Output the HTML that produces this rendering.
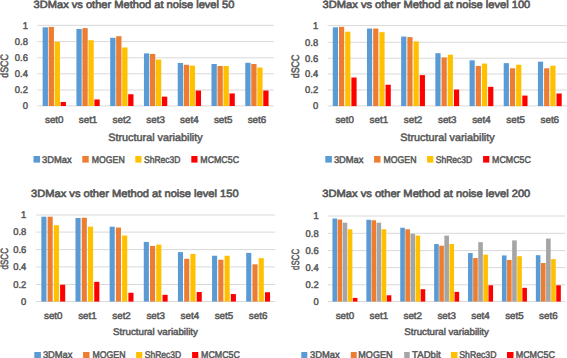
<!DOCTYPE html>
<html><head><meta charset="utf-8"><title>3DMax vs other Method</title>
<style>
html,body{margin:0;padding:0;background:#fff;overflow:hidden;}
svg{display:block;font-family:"Liberation Sans",sans-serif;}
text{stroke:#595959;stroke-width:0.5px;paint-order:stroke;text-rendering:geometricPrecision;}
</style></head><body>
<svg width="567" height="358" viewBox="0 0 567 358">
<rect x="0" y="0" width="567" height="358" fill="#fff"/>
<text x="33.60" y="7.80" font-size="10.5" textLength="200.80" lengthAdjust="spacingAndGlyphs" fill="#595959" style="stroke-width:0.65px">3DMax vs other Method at noise level 50</text>
<rect x="37.40" y="105.40" width="236.40" height="1" fill="#D9D9D9"/>
<text x="22.67" y="109.20" font-size="9.8" textLength="5.23" lengthAdjust="spacingAndGlyphs" fill="#595959">0</text>
<rect x="37.40" y="89.50" width="236.40" height="1" fill="#D9D9D9"/>
<text x="14.82" y="93.30" font-size="9.8" textLength="13.08" lengthAdjust="spacingAndGlyphs" fill="#595959">0.2</text>
<rect x="37.40" y="73.30" width="236.40" height="1" fill="#D9D9D9"/>
<text x="14.82" y="77.10" font-size="9.8" textLength="13.08" lengthAdjust="spacingAndGlyphs" fill="#595959">0.4</text>
<rect x="37.40" y="57.30" width="236.40" height="1" fill="#D9D9D9"/>
<text x="14.82" y="61.10" font-size="9.8" textLength="13.08" lengthAdjust="spacingAndGlyphs" fill="#595959">0.6</text>
<rect x="37.40" y="41.10" width="236.40" height="1" fill="#D9D9D9"/>
<text x="14.82" y="44.90" font-size="9.8" textLength="13.08" lengthAdjust="spacingAndGlyphs" fill="#595959">0.8</text>
<rect x="37.40" y="24.80" width="236.40" height="1" fill="#D9D9D9"/>
<text x="22.67" y="28.60" font-size="9.8" textLength="5.23" lengthAdjust="spacingAndGlyphs" fill="#595959">1</text>
<rect x="42.64" y="27.33" width="5.30" height="78.67" fill="#5B9BD5"/>
<rect x="48.64" y="26.93" width="5.30" height="79.07" fill="#ED7D31"/>
<rect x="54.64" y="41.84" width="5.30" height="64.16" fill="#FFC000"/>
<rect x="60.64" y="101.97" width="5.30" height="4.03" fill="#FF0000"/>
<rect x="76.41" y="28.95" width="5.30" height="77.05" fill="#5B9BD5"/>
<rect x="82.41" y="28.14" width="5.30" height="77.86" fill="#ED7D31"/>
<rect x="88.41" y="40.23" width="5.30" height="65.77" fill="#FFC000"/>
<rect x="94.41" y="99.47" width="5.30" height="6.53" fill="#FF0000"/>
<rect x="110.18" y="37.81" width="5.30" height="68.19" fill="#5B9BD5"/>
<rect x="116.18" y="36.20" width="5.30" height="69.80" fill="#ED7D31"/>
<rect x="122.18" y="47.48" width="5.30" height="58.52" fill="#FFC000"/>
<rect x="128.18" y="94.23" width="5.30" height="11.77" fill="#FF0000"/>
<rect x="143.95" y="53.37" width="5.30" height="52.63" fill="#5B9BD5"/>
<rect x="149.95" y="53.93" width="5.30" height="52.07" fill="#ED7D31"/>
<rect x="155.95" y="59.57" width="5.30" height="46.43" fill="#FFC000"/>
<rect x="161.95" y="96.65" width="5.30" height="9.35" fill="#FF0000"/>
<rect x="177.72" y="62.96" width="5.30" height="43.04" fill="#5B9BD5"/>
<rect x="183.72" y="64.81" width="5.30" height="41.19" fill="#ED7D31"/>
<rect x="189.72" y="65.62" width="5.30" height="40.38" fill="#FFC000"/>
<rect x="195.72" y="90.52" width="5.30" height="15.48" fill="#FF0000"/>
<rect x="211.49" y="64.01" width="5.30" height="41.99" fill="#5B9BD5"/>
<rect x="217.49" y="66.02" width="5.30" height="39.98" fill="#ED7D31"/>
<rect x="223.49" y="66.02" width="5.30" height="39.98" fill="#FFC000"/>
<rect x="229.49" y="93.43" width="5.30" height="12.57" fill="#FF0000"/>
<rect x="245.26" y="62.80" width="5.30" height="43.20" fill="#5B9BD5"/>
<rect x="251.26" y="64.01" width="5.30" height="41.99" fill="#ED7D31"/>
<rect x="257.26" y="67.55" width="5.30" height="38.45" fill="#FFC000"/>
<rect x="263.26" y="90.52" width="5.30" height="15.48" fill="#FF0000"/>
<text x="45.02" y="123.10" font-size="9.8" textLength="18.52" lengthAdjust="spacingAndGlyphs" fill="#595959">set0</text>
<text x="78.80" y="123.10" font-size="9.8" textLength="18.52" lengthAdjust="spacingAndGlyphs" fill="#595959">set1</text>
<text x="112.57" y="123.10" font-size="9.8" textLength="18.52" lengthAdjust="spacingAndGlyphs" fill="#595959">set2</text>
<text x="146.34" y="123.10" font-size="9.8" textLength="18.52" lengthAdjust="spacingAndGlyphs" fill="#595959">set3</text>
<text x="180.11" y="123.10" font-size="9.8" textLength="18.52" lengthAdjust="spacingAndGlyphs" fill="#595959">set4</text>
<text x="213.88" y="123.10" font-size="9.8" textLength="18.52" lengthAdjust="spacingAndGlyphs" fill="#595959">set5</text>
<text x="247.65" y="123.10" font-size="9.8" textLength="18.52" lengthAdjust="spacingAndGlyphs" fill="#595959">set6</text>
<text x="108.30" y="140.60" font-size="10.8" textLength="94.30" lengthAdjust="spacingAndGlyphs" fill="#595959">Structural variability</text>
<text transform="translate(7.90,77.80) rotate(-90)" x="0" y="0" font-size="10.8" textLength="23.80" lengthAdjust="spacingAndGlyphs" fill="#595959">dSCC</text>
<rect x="33.50" y="156.00" width="6.60" height="6.60" fill="#5B9BD5"/>
<text x="42.10" y="162.60" font-size="9.8" textLength="29.60" lengthAdjust="spacingAndGlyphs" fill="#595959">3DMax</text>
<rect x="82.30" y="156.00" width="6.40" height="6.60" fill="#ED7D31"/>
<text x="91.70" y="162.60" font-size="9.8" textLength="33.00" lengthAdjust="spacingAndGlyphs" fill="#595959">MOGEN</text>
<rect x="135.30" y="156.00" width="6.20" height="6.60" fill="#FFC000"/>
<text x="144.00" y="162.60" font-size="9.8" textLength="36.40" lengthAdjust="spacingAndGlyphs" fill="#595959">ShRec3D</text>
<rect x="191.30" y="156.00" width="6.20" height="6.60" fill="#FF0000"/>
<text x="200.30" y="162.60" font-size="9.8" textLength="38.70" lengthAdjust="spacingAndGlyphs" fill="#595959">MCMC5C</text>
<text x="322.60" y="7.90" font-size="10.5" textLength="207.70" lengthAdjust="spacingAndGlyphs" fill="#595959" style="stroke-width:0.65px">3DMax vs other Method at noise level 100</text>
<rect x="327.60" y="105.40" width="239.30" height="1" fill="#D9D9D9"/>
<text x="312.97" y="109.20" font-size="9.8" textLength="5.23" lengthAdjust="spacingAndGlyphs" fill="#595959">0</text>
<rect x="327.60" y="89.50" width="239.30" height="1" fill="#D9D9D9"/>
<text x="305.12" y="93.30" font-size="9.8" textLength="13.08" lengthAdjust="spacingAndGlyphs" fill="#595959">0.2</text>
<rect x="327.60" y="73.50" width="239.30" height="1" fill="#D9D9D9"/>
<text x="305.12" y="77.30" font-size="9.8" textLength="13.08" lengthAdjust="spacingAndGlyphs" fill="#595959">0.4</text>
<rect x="327.60" y="57.70" width="239.30" height="1" fill="#D9D9D9"/>
<text x="305.12" y="61.50" font-size="9.8" textLength="13.08" lengthAdjust="spacingAndGlyphs" fill="#595959">0.6</text>
<rect x="327.60" y="41.80" width="239.30" height="1" fill="#D9D9D9"/>
<text x="305.12" y="45.60" font-size="9.8" textLength="13.08" lengthAdjust="spacingAndGlyphs" fill="#595959">0.8</text>
<rect x="327.60" y="25.10" width="239.30" height="1" fill="#D9D9D9"/>
<text x="312.97" y="28.90" font-size="9.8" textLength="5.23" lengthAdjust="spacingAndGlyphs" fill="#595959">1</text>
<rect x="332.79" y="27.33" width="5.20" height="78.77" fill="#5B9BD5"/>
<rect x="338.99" y="26.92" width="5.20" height="79.18" fill="#ED7D31"/>
<rect x="345.19" y="31.74" width="5.20" height="74.36" fill="#FFC000"/>
<rect x="351.39" y="77.51" width="5.20" height="28.59" fill="#FF0000"/>
<rect x="366.98" y="28.53" width="5.20" height="77.57" fill="#5B9BD5"/>
<rect x="373.18" y="28.53" width="5.20" height="77.57" fill="#ED7D31"/>
<rect x="379.38" y="32.14" width="5.20" height="73.96" fill="#FFC000"/>
<rect x="385.58" y="84.74" width="5.20" height="21.36" fill="#FF0000"/>
<rect x="401.16" y="36.56" width="5.20" height="69.54" fill="#5B9BD5"/>
<rect x="407.36" y="37.12" width="5.20" height="68.98" fill="#ED7D31"/>
<rect x="413.56" y="41.38" width="5.20" height="64.72" fill="#FFC000"/>
<rect x="419.76" y="75.10" width="5.20" height="31.00" fill="#FF0000"/>
<rect x="435.35" y="53.18" width="5.20" height="52.92" fill="#5B9BD5"/>
<rect x="441.55" y="57.44" width="5.20" height="48.66" fill="#ED7D31"/>
<rect x="447.75" y="54.71" width="5.20" height="51.39" fill="#FFC000"/>
<rect x="453.95" y="89.56" width="5.20" height="16.54" fill="#FF0000"/>
<rect x="469.54" y="60.33" width="5.20" height="45.77" fill="#5B9BD5"/>
<rect x="475.74" y="65.95" width="5.20" height="40.15" fill="#ED7D31"/>
<rect x="481.94" y="63.54" width="5.20" height="42.56" fill="#FFC000"/>
<rect x="488.14" y="86.83" width="5.20" height="19.27" fill="#FF0000"/>
<rect x="503.72" y="63.14" width="5.20" height="42.96" fill="#5B9BD5"/>
<rect x="509.92" y="68.28" width="5.20" height="37.82" fill="#ED7D31"/>
<rect x="516.12" y="64.75" width="5.20" height="41.35" fill="#FFC000"/>
<rect x="522.32" y="95.58" width="5.20" height="10.52" fill="#FF0000"/>
<rect x="537.91" y="61.69" width="5.20" height="44.41" fill="#5B9BD5"/>
<rect x="544.11" y="68.28" width="5.20" height="37.82" fill="#ED7D31"/>
<rect x="550.31" y="65.71" width="5.20" height="40.39" fill="#FFC000"/>
<rect x="556.51" y="93.49" width="5.20" height="12.61" fill="#FF0000"/>
<text x="335.43" y="123.10" font-size="9.8" textLength="18.52" lengthAdjust="spacingAndGlyphs" fill="#595959">set0</text>
<text x="369.62" y="123.10" font-size="9.8" textLength="18.52" lengthAdjust="spacingAndGlyphs" fill="#595959">set1</text>
<text x="403.80" y="123.10" font-size="9.8" textLength="18.52" lengthAdjust="spacingAndGlyphs" fill="#595959">set2</text>
<text x="437.99" y="123.10" font-size="9.8" textLength="18.52" lengthAdjust="spacingAndGlyphs" fill="#595959">set3</text>
<text x="472.17" y="123.10" font-size="9.8" textLength="18.52" lengthAdjust="spacingAndGlyphs" fill="#595959">set4</text>
<text x="506.36" y="123.10" font-size="9.8" textLength="18.52" lengthAdjust="spacingAndGlyphs" fill="#595959">set5</text>
<text x="540.55" y="123.10" font-size="9.8" textLength="18.52" lengthAdjust="spacingAndGlyphs" fill="#595959">set6</text>
<text x="400.30" y="140.60" font-size="10.8" textLength="94.30" lengthAdjust="spacingAndGlyphs" fill="#595959">Structural variability</text>
<text transform="translate(298.90,78.30) rotate(-90)" x="0" y="0" font-size="10.8" textLength="23.80" lengthAdjust="spacingAndGlyphs" fill="#595959">dSCC</text>
<rect x="325.30" y="156.00" width="6.60" height="6.60" fill="#5B9BD5"/>
<text x="333.90" y="162.60" font-size="9.8" textLength="29.60" lengthAdjust="spacingAndGlyphs" fill="#595959">3DMax</text>
<rect x="374.10" y="156.00" width="6.40" height="6.60" fill="#ED7D31"/>
<text x="383.50" y="162.60" font-size="9.8" textLength="33.00" lengthAdjust="spacingAndGlyphs" fill="#595959">MOGEN</text>
<rect x="427.10" y="156.00" width="6.20" height="6.60" fill="#FFC000"/>
<text x="435.80" y="162.60" font-size="9.8" textLength="36.40" lengthAdjust="spacingAndGlyphs" fill="#595959">ShRec3D</text>
<rect x="483.10" y="156.00" width="6.20" height="6.60" fill="#FF0000"/>
<text x="492.10" y="162.60" font-size="9.8" textLength="38.70" lengthAdjust="spacingAndGlyphs" fill="#595959">MCMC5C</text>
<text x="31.10" y="196.60" font-size="10.5" textLength="207.50" lengthAdjust="spacingAndGlyphs" fill="#595959" style="stroke-width:0.65px">3DMax vs other Method at noise level 150</text>
<rect x="36.20" y="301.00" width="239.00" height="1" fill="#D9D9D9"/>
<text x="21.07" y="304.80" font-size="9.8" textLength="5.23" lengthAdjust="spacingAndGlyphs" fill="#595959">0</text>
<rect x="36.20" y="284.00" width="239.00" height="1" fill="#D9D9D9"/>
<text x="13.22" y="287.80" font-size="9.8" textLength="13.08" lengthAdjust="spacingAndGlyphs" fill="#595959">0.2</text>
<rect x="36.20" y="266.40" width="239.00" height="1" fill="#D9D9D9"/>
<text x="13.22" y="270.20" font-size="9.8" textLength="13.08" lengthAdjust="spacingAndGlyphs" fill="#595959">0.4</text>
<rect x="36.20" y="249.10" width="239.00" height="1" fill="#D9D9D9"/>
<text x="13.22" y="252.90" font-size="9.8" textLength="13.08" lengthAdjust="spacingAndGlyphs" fill="#595959">0.6</text>
<rect x="36.20" y="231.60" width="239.00" height="1" fill="#D9D9D9"/>
<text x="13.22" y="235.40" font-size="9.8" textLength="13.08" lengthAdjust="spacingAndGlyphs" fill="#595959">0.8</text>
<rect x="36.20" y="214.50" width="239.00" height="1" fill="#D9D9D9"/>
<text x="21.07" y="218.30" font-size="9.8" textLength="5.23" lengthAdjust="spacingAndGlyphs" fill="#595959">1</text>
<rect x="41.35" y="216.72" width="5.10" height="84.88" fill="#5B9BD5"/>
<rect x="47.60" y="216.72" width="5.10" height="84.88" fill="#ED7D31"/>
<rect x="53.85" y="225.22" width="5.10" height="76.38" fill="#FFC000"/>
<rect x="60.10" y="284.78" width="5.10" height="16.82" fill="#FF0000"/>
<rect x="75.49" y="218.02" width="5.10" height="83.58" fill="#5B9BD5"/>
<rect x="81.74" y="217.76" width="5.10" height="83.84" fill="#ED7D31"/>
<rect x="87.99" y="226.69" width="5.10" height="74.91" fill="#FFC000"/>
<rect x="94.24" y="281.83" width="5.10" height="19.77" fill="#FF0000"/>
<rect x="109.63" y="226.69" width="5.10" height="74.91" fill="#5B9BD5"/>
<rect x="115.88" y="227.56" width="5.10" height="74.04" fill="#ED7D31"/>
<rect x="122.13" y="235.53" width="5.10" height="66.07" fill="#FFC000"/>
<rect x="128.38" y="292.76" width="5.10" height="8.84" fill="#FF0000"/>
<rect x="143.78" y="241.95" width="5.10" height="59.65" fill="#5B9BD5"/>
<rect x="150.03" y="245.94" width="5.10" height="55.66" fill="#ED7D31"/>
<rect x="156.28" y="244.64" width="5.10" height="56.96" fill="#FFC000"/>
<rect x="162.53" y="294.84" width="5.10" height="6.76" fill="#FF0000"/>
<rect x="177.92" y="252.09" width="5.10" height="49.51" fill="#5B9BD5"/>
<rect x="184.17" y="258.77" width="5.10" height="42.83" fill="#ED7D31"/>
<rect x="190.42" y="253.92" width="5.10" height="47.69" fill="#FFC000"/>
<rect x="196.67" y="291.98" width="5.10" height="9.62" fill="#FF0000"/>
<rect x="212.06" y="255.74" width="5.10" height="45.86" fill="#5B9BD5"/>
<rect x="218.31" y="259.72" width="5.10" height="41.88" fill="#ED7D31"/>
<rect x="224.56" y="255.74" width="5.10" height="45.86" fill="#FFC000"/>
<rect x="230.81" y="294.06" width="5.10" height="7.54" fill="#FF0000"/>
<rect x="246.20" y="252.87" width="5.10" height="48.73" fill="#5B9BD5"/>
<rect x="252.45" y="264.32" width="5.10" height="37.28" fill="#ED7D31"/>
<rect x="258.70" y="258.16" width="5.10" height="43.44" fill="#FFC000"/>
<rect x="264.95" y="292.24" width="5.10" height="9.36" fill="#FF0000"/>
<text x="44.01" y="318.60" font-size="9.8" textLength="18.52" lengthAdjust="spacingAndGlyphs" fill="#595959">set0</text>
<text x="78.15" y="318.60" font-size="9.8" textLength="18.52" lengthAdjust="spacingAndGlyphs" fill="#595959">set1</text>
<text x="112.30" y="318.60" font-size="9.8" textLength="18.52" lengthAdjust="spacingAndGlyphs" fill="#595959">set2</text>
<text x="146.44" y="318.60" font-size="9.8" textLength="18.52" lengthAdjust="spacingAndGlyphs" fill="#595959">set3</text>
<text x="180.58" y="318.60" font-size="9.8" textLength="18.52" lengthAdjust="spacingAndGlyphs" fill="#595959">set4</text>
<text x="214.72" y="318.60" font-size="9.8" textLength="18.52" lengthAdjust="spacingAndGlyphs" fill="#595959">set5</text>
<text x="248.87" y="318.60" font-size="9.8" textLength="18.52" lengthAdjust="spacingAndGlyphs" fill="#595959">set6</text>
<text x="113.10" y="335.10" font-size="9.7" textLength="84.80" lengthAdjust="spacingAndGlyphs" fill="#595959">Structural variability</text>
<text transform="translate(7.70,269.40) rotate(-90)" x="0" y="0" font-size="10.6" textLength="21.30" lengthAdjust="spacingAndGlyphs" fill="#595959">dSCC</text>
<rect x="34.30" y="352.00" width="6.60" height="6.60" fill="#5B9BD5"/>
<text x="42.90" y="357.90" font-size="9.8" textLength="29.60" lengthAdjust="spacingAndGlyphs" fill="#595959">3DMax</text>
<rect x="83.10" y="352.00" width="6.40" height="6.60" fill="#ED7D31"/>
<text x="92.50" y="357.90" font-size="9.8" textLength="33.00" lengthAdjust="spacingAndGlyphs" fill="#595959">MOGEN</text>
<rect x="136.10" y="352.00" width="6.20" height="6.60" fill="#FFC000"/>
<text x="144.80" y="357.90" font-size="9.8" textLength="36.40" lengthAdjust="spacingAndGlyphs" fill="#595959">ShRec3D</text>
<rect x="192.10" y="352.00" width="6.20" height="6.60" fill="#FF0000"/>
<text x="201.10" y="357.90" font-size="9.8" textLength="38.70" lengthAdjust="spacingAndGlyphs" fill="#595959">MCMC5C</text>
<text x="322.30" y="196.50" font-size="10.5" textLength="208.00" lengthAdjust="spacingAndGlyphs" fill="#595959" style="stroke-width:0.65px">3DMax vs other Method at noise level 200</text>
<rect x="328.00" y="301.00" width="237.30" height="1" fill="#D9D9D9"/>
<text x="313.47" y="304.80" font-size="9.8" textLength="5.23" lengthAdjust="spacingAndGlyphs" fill="#595959">0</text>
<rect x="328.00" y="284.30" width="237.30" height="1" fill="#D9D9D9"/>
<text x="305.62" y="288.10" font-size="9.8" textLength="13.08" lengthAdjust="spacingAndGlyphs" fill="#595959">0.2</text>
<rect x="328.00" y="267.10" width="237.30" height="1" fill="#D9D9D9"/>
<text x="305.62" y="270.90" font-size="9.8" textLength="13.08" lengthAdjust="spacingAndGlyphs" fill="#595959">0.4</text>
<rect x="328.00" y="250.10" width="237.30" height="1" fill="#D9D9D9"/>
<text x="305.62" y="253.90" font-size="9.8" textLength="13.08" lengthAdjust="spacingAndGlyphs" fill="#595959">0.6</text>
<rect x="328.00" y="232.80" width="237.30" height="1" fill="#D9D9D9"/>
<text x="305.62" y="236.60" font-size="9.8" textLength="13.08" lengthAdjust="spacingAndGlyphs" fill="#595959">0.8</text>
<rect x="328.00" y="215.50" width="237.30" height="1" fill="#D9D9D9"/>
<text x="313.47" y="219.30" font-size="9.8" textLength="5.23" lengthAdjust="spacingAndGlyphs" fill="#595959">1</text>
<rect x="332.45" y="218.49" width="4.60" height="83.11" fill="#5B9BD5"/>
<rect x="337.55" y="219.52" width="4.60" height="82.08" fill="#ED7D31"/>
<rect x="342.65" y="222.68" width="4.60" height="78.92" fill="#A5A5A5"/>
<rect x="347.75" y="229.27" width="4.60" height="72.33" fill="#FFC000"/>
<rect x="352.85" y="297.92" width="4.60" height="3.68" fill="#FF0000"/>
<rect x="366.35" y="219.78" width="4.60" height="81.82" fill="#5B9BD5"/>
<rect x="371.45" y="220.29" width="4.60" height="81.31" fill="#ED7D31"/>
<rect x="376.55" y="222.68" width="4.60" height="78.92" fill="#A5A5A5"/>
<rect x="381.65" y="229.27" width="4.60" height="72.33" fill="#FFC000"/>
<rect x="386.75" y="295.27" width="4.60" height="6.33" fill="#FF0000"/>
<rect x="400.25" y="227.73" width="4.60" height="73.87" fill="#5B9BD5"/>
<rect x="405.35" y="229.27" width="4.60" height="72.33" fill="#ED7D31"/>
<rect x="410.45" y="233.80" width="4.60" height="67.80" fill="#A5A5A5"/>
<rect x="415.55" y="235.59" width="4.60" height="66.01" fill="#FFC000"/>
<rect x="420.65" y="289.20" width="4.60" height="12.40" fill="#FF0000"/>
<rect x="434.15" y="244.06" width="4.60" height="57.54" fill="#5B9BD5"/>
<rect x="439.25" y="245.68" width="4.60" height="55.92" fill="#ED7D31"/>
<rect x="444.35" y="235.59" width="4.60" height="66.01" fill="#A5A5A5"/>
<rect x="449.45" y="244.06" width="4.60" height="57.54" fill="#FFC000"/>
<rect x="454.55" y="291.85" width="4.60" height="9.75" fill="#FF0000"/>
<rect x="468.05" y="253.04" width="4.60" height="48.56" fill="#5B9BD5"/>
<rect x="473.15" y="258.08" width="4.60" height="43.52" fill="#ED7D31"/>
<rect x="478.25" y="242.18" width="4.60" height="59.42" fill="#A5A5A5"/>
<rect x="483.35" y="254.66" width="4.60" height="46.94" fill="#FFC000"/>
<rect x="488.45" y="285.27" width="4.60" height="16.33" fill="#FF0000"/>
<rect x="501.95" y="255.43" width="4.60" height="46.17" fill="#5B9BD5"/>
<rect x="507.05" y="259.96" width="4.60" height="41.64" fill="#ED7D31"/>
<rect x="512.15" y="240.38" width="4.60" height="61.22" fill="#A5A5A5"/>
<rect x="517.25" y="256.20" width="4.60" height="45.40" fill="#FFC000"/>
<rect x="522.35" y="287.83" width="4.60" height="13.77" fill="#FF0000"/>
<rect x="535.85" y="255.17" width="4.60" height="46.43" fill="#5B9BD5"/>
<rect x="540.95" y="263.04" width="4.60" height="38.56" fill="#ED7D31"/>
<rect x="546.05" y="238.59" width="4.60" height="63.01" fill="#A5A5A5"/>
<rect x="551.15" y="259.11" width="4.60" height="42.49" fill="#FFC000"/>
<rect x="556.25" y="285.27" width="4.60" height="16.33" fill="#FF0000"/>
<text x="335.69" y="318.60" font-size="9.8" textLength="18.52" lengthAdjust="spacingAndGlyphs" fill="#595959">set0</text>
<text x="369.59" y="318.60" font-size="9.8" textLength="18.52" lengthAdjust="spacingAndGlyphs" fill="#595959">set1</text>
<text x="403.49" y="318.60" font-size="9.8" textLength="18.52" lengthAdjust="spacingAndGlyphs" fill="#595959">set2</text>
<text x="437.39" y="318.60" font-size="9.8" textLength="18.52" lengthAdjust="spacingAndGlyphs" fill="#595959">set3</text>
<text x="471.29" y="318.60" font-size="9.8" textLength="18.52" lengthAdjust="spacingAndGlyphs" fill="#595959">set4</text>
<text x="505.19" y="318.60" font-size="9.8" textLength="18.52" lengthAdjust="spacingAndGlyphs" fill="#595959">set5</text>
<text x="539.09" y="318.60" font-size="9.8" textLength="18.52" lengthAdjust="spacingAndGlyphs" fill="#595959">set6</text>
<text x="404.30" y="335.10" font-size="9.7" textLength="84.60" lengthAdjust="spacingAndGlyphs" fill="#595959">Structural variability</text>
<text transform="translate(299.20,269.90) rotate(-90)" x="0" y="0" font-size="10.6" textLength="21.10" lengthAdjust="spacingAndGlyphs" fill="#595959">dSCC</text>
<rect x="301.30" y="352.00" width="6.00" height="6.60" fill="#5B9BD5"/>
<text x="310.00" y="357.90" font-size="9.8" textLength="29.70" lengthAdjust="spacingAndGlyphs" fill="#595959">3DMax</text>
<rect x="350.80" y="352.00" width="5.90" height="6.60" fill="#ED7D31"/>
<text x="358.30" y="357.90" font-size="9.8" textLength="34.30" lengthAdjust="spacingAndGlyphs" fill="#595959">MOGEN</text>
<rect x="404.20" y="352.00" width="5.50" height="6.60" fill="#A5A5A5"/>
<text x="412.10" y="357.90" font-size="9.8" textLength="28.60" lengthAdjust="spacingAndGlyphs" fill="#595959">TADbit</text>
<rect x="451.00" y="352.00" width="6.50" height="6.60" fill="#FFC000"/>
<text x="459.30" y="357.90" font-size="9.8" textLength="37.10" lengthAdjust="spacingAndGlyphs" fill="#595959">ShRec3D</text>
<rect x="507.00" y="352.00" width="6.50" height="6.60" fill="#FF0000"/>
<text x="515.70" y="357.90" font-size="9.8" textLength="39.30" lengthAdjust="spacingAndGlyphs" fill="#595959">MCMC5C</text>
</svg>
</body></html>
